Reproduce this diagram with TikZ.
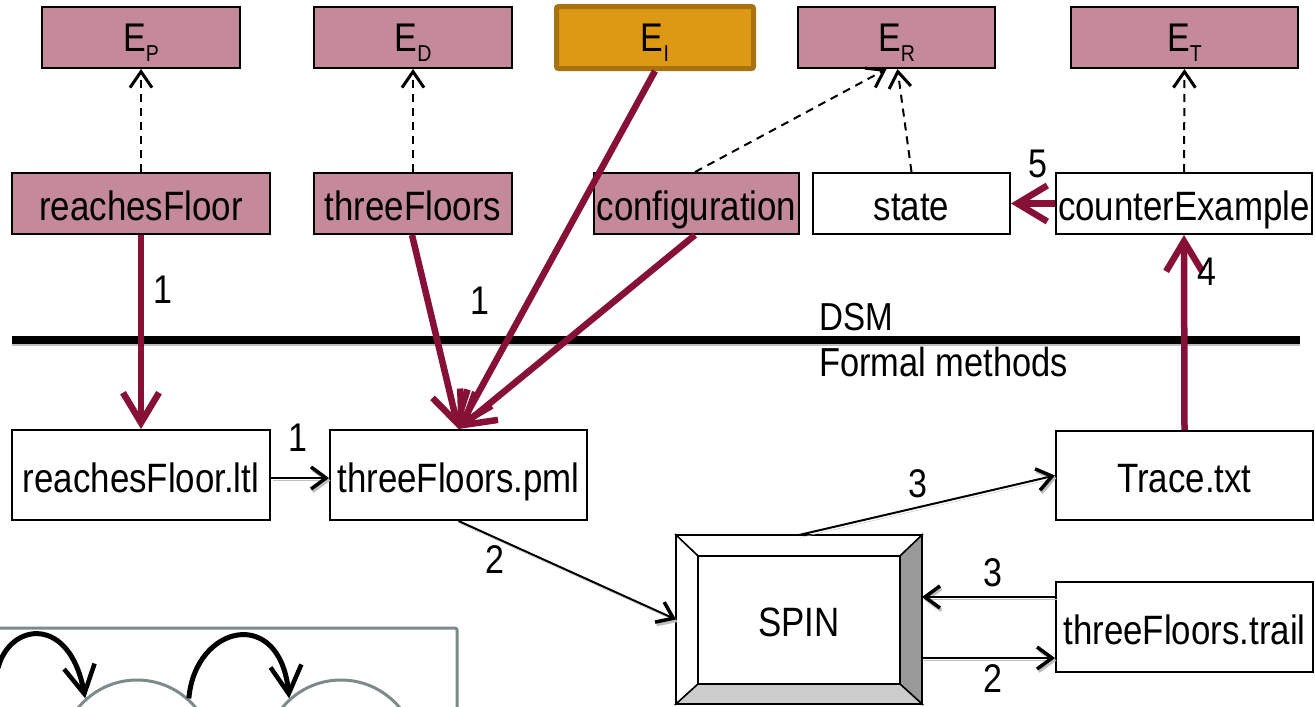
\documentclass[tikz,border=0pt]{standalone}
\usepackage{fontspec}
\setmainfont{Liberation Sans}[FakeStretch=0.85]
\usetikzlibrary{arrows.meta,calc,shapes.geometric}
\definecolor{pinkbox}{RGB}{196,138,153}
\definecolor{maroon}{RGB}{134,16,54}
\definecolor{orfill}{RGB}{221,153,20}
\definecolor{ordraw}{RGB}{168,114,16}
\definecolor{slate}{RGB}{122,139,137}
\newcommand{\Esub}[1]{E\raisebox{-10pt}{\fontsize{23}{23}\selectfont #1}}
\begin{document}
\begin{tikzpicture}[x=1pt,y=-1pt,
  box/.style={draw=black,line width=2pt,rectangle,inner sep=0pt,
    font=\fontsize{41}{45}\selectfont,text height=36pt,text depth=2pt},
  ebox/.style={box,fill=pinkbox,minimum height=61pt,
    font=\fontsize{40}{44}\selectfont,text height=30pt,text depth=1.6pt},
  mbox/.style={box,minimum height=61pt},
  fbox/.style={box,minimum height=90pt},
  lbl/.style={font=\fontsize{40}{44}\selectfont,inner sep=0pt},
  marr/.style={draw=maroon,line width=6.5pt,-{Straight Barb[length=30pt,width=36pt]}},
  shadowed/.style={preaction={draw=black!25,transform canvas={shift={(1.5pt,-2.5pt)}}}},
  barr/.style={shadowed,draw=black,line width=2pt,-{Straight Barb[length=15pt,width=22pt,line width=3.5pt]}},
  darr/.style={draw=black,line width=2pt,dash pattern=on 8pt off 6pt,
    -{Straight Barb[length=16pt,width=22pt,line width=3pt]}},
  carr/.style={draw=black,line width=5pt,-{Straight Barb[length=28pt,width=31pt,line width=4.5pt]}},
  slateline/.style={draw=slate,line width=3pt}
]
\useasboundingbox (0,0) rectangle (1315,707);
\clip (0,0) rectangle (1315,707);

% top row
\node[ebox,minimum width=198pt] (EP) at (141,37.5) {\Esub{P}};
\node[ebox,minimum width=198pt] (ED) at (413,37.5) {\Esub{D}};
\node[ebox,minimum width=197pt,minimum height=62pt,fill=orfill,draw=ordraw,line width=5pt,rounded corners=2pt] (EI) at (655,37.5) {\Esub{I}};
\node[ebox,minimum width=197pt] (ER) at (896.5,37.5) {\Esub{R}};
\node[ebox,minimum width=227pt] (ET) at (1184.5,37.5) {\Esub{T}};

% second row
\node[mbox,fill=pinkbox,minimum width=258pt] (rf) at (141,203.5) {reachesFloor};
\node[mbox,fill=pinkbox,minimum width=198pt] (tf) at (413,203.5) {threeFloors};
\node[mbox,fill=pinkbox,minimum width=205pt] (cfg) at (696.5,203.5) {configuration};
\node[mbox,fill=white,minimum width=197pt] (st) at (911.5,203.5) {state};
\node[mbox,fill=white,minimum width=256pt] (ce) at (1184,203.5) {counterExample};

% separator
\coordinate (sepL) at (12,340);
\coordinate (sepR) at (1300,340);
\draw[draw=black!25,line width=3pt] ([yshift=-4.5pt]sepL) -- ([yshift=-4.5pt]sepR);
\draw[line width=7.5pt] (sepL) -- (sepR);
\node[anchor=base west,inner sep=0pt,font=\fontsize{39}{43}\selectfont] (dsm) at (819,330) {DSM};
\node[anchor=base west,inner sep=0pt,font=\fontsize{40.5}{44}\selectfont] (fm) at (819,376) {Formal methods};

% third row
\node[fbox,fill=white,minimum width=258pt] (ltl) at (141,475) {reachesFloor.ltl};
\node[fbox,fill=white,minimum width=257pt] (pml) at (458.5,475) {threeFloors.pml};
\node[fbox,fill=white,minimum width=257pt,minimum height=89pt] (trace) at (1184.5,475.5) {Trace.txt};
\node[fbox,fill=white,minimum width=257pt] (trail) at (1184.5,627) {threeFloors.trail};

% SPIN bevel box
\node[box,minimum width=244pt,minimum height=167pt,draw=none] (spin) at (799,619.5) {};
\coordinate (iNW) at ($(spin.north west)+(22,21)$);
\coordinate (iSE) at ($(spin.south east)+(-22,-20)$);
\coordinate (iNE) at (iSE |- iNW);
\coordinate (iSW) at (iNW |- iSE);
\begin{scope}[line width=1.5pt,line join=miter]
\draw[fill=white] (spin.north west) -- (spin.north east) -- (iNE) -- (iNW) -- cycle;
\draw[fill=white] (spin.north west) -- (iNW) -- (iSW) -- (spin.south west) -- cycle;
\draw[fill=black!40] (spin.north east) -- (spin.south east) -- (iSE) -- (iNE) -- cycle;
\draw[fill=black!20] (spin.south west) -- (iSW) -- (iSE) -- (spin.south east) -- cycle;
\draw (spin.north west) rectangle (spin.south east);
\draw (iNW) rectangle (iSE);
\end{scope}
\node[font=\fontsize{41}{45}\selectfont,inner sep=0pt,text height=36pt,text depth=2pt] (spintext) at (spin.center) {SPIN};

% dashed arrows
\draw[darr] (rf.north) -- (EP.south);
\draw[darr] (tf.north) -- (ED.south);
\draw[darr] ([xshift=-1.5pt]cfg.north) -- ([xshift=-10pt]ER.south);
\draw[darr] (st.north) -- ([xshift=1pt]ER.south);
\draw[darr] (ce.north) -- (ET.south);

% black arrows
\draw[barr] (ltl.east |- 0,478) -- (pml.west |- 0,478);
\draw[barr] (pml.south) -- (spin.west);
\draw[barr] (spin.north) -- (trace.west);
\coordinate (t1) at ([yshift=30pt]trail.west);
\coordinate (t2) at ([yshift=-31pt]trail.west);
\draw[barr] (t1) -- (spin.east |- t1);
\draw[barr] (spin.east |- t2) -- (t2);

% maroon arrows
\draw[marr] (rf.south) -- (ltl.north);
\draw[marr] ([xshift=-1pt]tf.south) -- (pml.north);
\draw[marr] (EI.south) -- (pml.north);
\draw[marr] ([xshift=-1.5pt]cfg.south) -- (pml.north);
\draw[marr] (trace.north) -- (ce.south);
\draw[marr] (ce.west) -- (st.east);

% labels
\node[lbl] (l1a) at (163,290) {1};
\node[lbl] (l1b) at (480,301) {1};
\node[lbl] (l1c) at (298,437.5) {1};
\node[lbl] (l2a) at (495,560) {2};
\node[lbl] (l3a) at (918,484) {3};
\node[lbl] (l3b) at (993,573) {3};
\node[lbl] (l2b) at (993,679) {2};
\node[lbl] (l4) at (1207,272) {4};
\node[lbl] (l5) at (1038,164) {5};

% partial figure bottom-left
\draw[slateline,rounded corners=2pt] (-10,628) -- (457,628) -- (457,720);
\node[draw=slate,line width=3pt,circle,minimum size=152pt,inner sep=0pt] (c1) at (137,756) {};
\node[draw=slate,line width=3pt,circle,minimum size=152pt,inner sep=0pt] (c2) at (341,756) {};
\draw[carr] (-2,668) .. controls (10,622) and (70,615) .. (c1.132);
\draw[carr] (c1.48) .. controls (195,625) and (280,605) .. (c2.132);
\end{tikzpicture}
\end{document}
